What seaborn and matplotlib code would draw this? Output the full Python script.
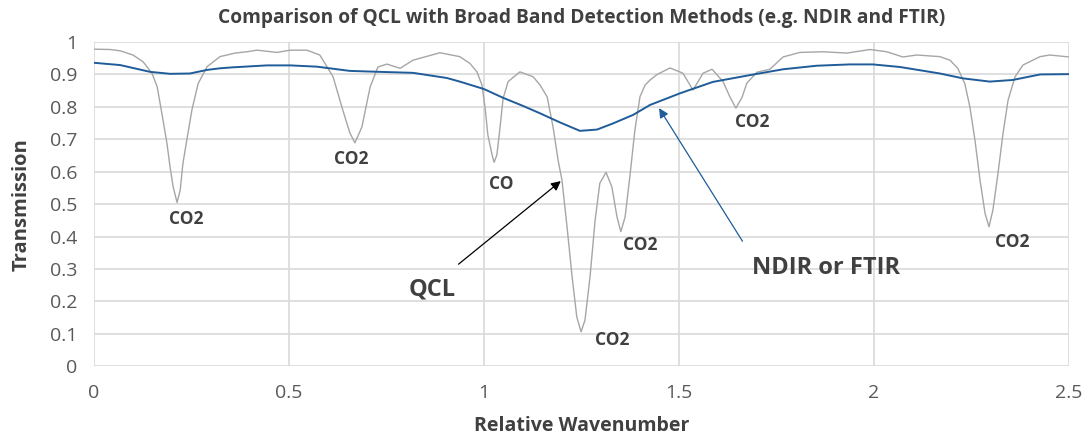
"""Recreate the QCL vs broad band detection transmission chart."""

import matplotlib

matplotlib.use("Agg")
import matplotlib.pyplot as plt
import pandas as pd
import seaborn as sns


QCL_X = [
    0.000, 0.041, 0.067, 0.100, 0.126, 0.149, 0.162, 0.174, 0.187, 0.195,
    0.203, 0.213, 0.221, 0.228, 0.238, 0.251, 0.267, 0.290, 0.323, 0.362,
    0.392, 0.418, 0.469, 0.503, 0.546, 0.579, 0.613, 0.638, 0.656, 0.669,
    0.687, 0.708, 0.728, 0.751, 0.785, 0.818, 0.887, 0.938, 0.964, 0.982,
    0.995, 1.003, 1.010, 1.021, 1.026, 1.033, 1.041, 1.049, 1.062, 1.092,
    1.126, 1.144, 1.162, 1.177, 1.190, 1.200, 1.213, 1.226, 1.238, 1.249,
    1.259, 1.272, 1.285, 1.297, 1.313, 1.328, 1.341, 1.351, 1.362, 1.374,
    1.387, 1.400, 1.413, 1.426, 1.444, 1.477, 1.510, 1.536, 1.562, 1.585,
    1.613, 1.631, 1.646, 1.662, 1.674, 1.700, 1.733, 1.767, 1.810, 1.869,
    1.931, 1.990, 2.033, 2.074, 2.110, 2.169, 2.195, 2.215, 2.233, 2.246,
    2.259, 2.272, 2.285, 2.295, 2.305, 2.318, 2.331, 2.344, 2.362, 2.382,
    2.426, 2.451, 2.500,
]
QCL_Y = [
    0.978, 0.977, 0.973, 0.960, 0.939, 0.903, 0.862, 0.780, 0.688, 0.615,
    0.553, 0.505, 0.543, 0.625, 0.698, 0.790, 0.872, 0.924, 0.955, 0.966,
    0.970, 0.975, 0.968, 0.975, 0.975, 0.960, 0.893, 0.790, 0.720, 0.689,
    0.738, 0.861, 0.923, 0.932, 0.919, 0.944, 0.967, 0.955, 0.934, 0.908,
    0.867, 0.795, 0.713, 0.651, 0.629, 0.651, 0.734, 0.826, 0.878, 0.908,
    0.893, 0.867, 0.831, 0.739, 0.636, 0.574, 0.430, 0.276, 0.152, 0.106,
    0.142, 0.276, 0.450, 0.564, 0.598, 0.553, 0.461, 0.415, 0.461, 0.584,
    0.728, 0.831, 0.867, 0.883, 0.900, 0.920, 0.904, 0.852, 0.904, 0.916,
    0.878, 0.830, 0.796, 0.830, 0.873, 0.907, 0.916, 0.954, 0.968, 0.970,
    0.966, 0.977, 0.970, 0.954, 0.960, 0.955, 0.944, 0.919, 0.872, 0.800,
    0.698, 0.574, 0.471, 0.430, 0.481, 0.594, 0.718, 0.821, 0.893, 0.929,
    0.955, 0.960, 0.954,
]

NDIR_X = [
    0.000, 0.067, 0.144, 0.195, 0.246, 0.290, 0.323, 0.356, 0.444, 0.503,
    0.572, 0.656, 0.733, 0.818, 0.905, 0.938, 1.000, 1.049, 1.100, 1.144,
    1.195, 1.246, 1.290, 1.331, 1.382, 1.426, 1.503, 1.587, 1.682, 1.767,
    1.854, 1.938, 1.997, 2.067, 2.169, 2.228, 2.297, 2.356, 2.426, 2.500,
]
NDIR_Y = [
    0.936, 0.929, 0.908, 0.902, 0.903, 0.914, 0.919, 0.922, 0.928, 0.928,
    0.924, 0.911, 0.908, 0.905, 0.889, 0.878, 0.855, 0.828, 0.803, 0.780,
    0.752, 0.726, 0.730, 0.749, 0.775, 0.806, 0.842, 0.877, 0.898, 0.916,
    0.927, 0.931, 0.931, 0.923, 0.903, 0.888, 0.878, 0.883, 0.900, 0.901,
]

# gas line labels: (text, x, y)
PEAK_LABELS = [
    ("CO2", 0.236, 0.454),
    ("CO2", 0.659, 0.639),
    ("CO", 1.044, 0.562),
    ("CO2", 1.328, 0.080),
    ("CO2", 1.400, 0.373),
    ("CO2", 1.687, 0.753),
    ("CO2", 2.354, 0.383),
]

TEXT_COLOR = "#404040"
TICK_COLOR = "#595959"
QCL_COLOR = "#a6a6a6"
NDIR_COLOR = "#1f5c99"


def main() -> None:
    sns.set_theme(style="white")
    plt.rcParams["font.family"] = ["Open Sans", "DejaVu Sans"]

    fig = plt.figure(figsize=(10.83, 4.38), dpi=100)
    ax = fig.add_axes([0.0868, 0.164, 0.9002, 0.740])

    qcl = pd.DataFrame({"x": QCL_X, "y": QCL_Y})
    ndir = pd.DataFrame({"x": NDIR_X, "y": NDIR_Y})
    sns.lineplot(data=qcl, x="x", y="y", ax=ax, color=QCL_COLOR, linewidth=1.0, sort=False)
    sns.lineplot(data=ndir, x="x", y="y", ax=ax, color=NDIR_COLOR, linewidth=1.4, sort=False)

    ax.set_xlim(0, 2.5)
    ax.set_ylim(0, 1)
    ax.set_xticks([0, 0.5, 1, 1.5, 2, 2.5])
    ax.set_xticklabels(["0", "0.5", "1", "1.5", "2", "2.5"])
    ax.set_yticks([i / 10 for i in range(11)])
    ax.set_yticklabels(["0"] + [f"0.{i}" for i in range(1, 10)] + ["1"])
    ax.tick_params(axis="both", length=0, labelsize=14, labelcolor=TICK_COLOR)
    ax.tick_params(axis="x", pad=13)
    ax.tick_params(axis="y", pad=12)
    ax.grid(True, color="#d9d9d9", linewidth=1.2)
    ax.set_axisbelow(True)
    for spine in ax.spines.values():
        spine.set_visible(False)

    ax.set_xlabel("Relative Wavenumber", fontsize=14, fontweight="bold",
                  color=TEXT_COLOR, labelpad=10)
    ax.set_ylabel("Transmission", fontsize=14.5, fontweight="bold",
                  color=TEXT_COLOR, labelpad=13)
    fig.text(0.537, 0.958,
             "Comparison of QCL with Broad Band Detection Methods (e.g. NDIR and FTIR)",
             fontsize=13.8, fontweight="bold", color=TEXT_COLOR,
             ha="center", va="center")

    for text, x, y in PEAK_LABELS:
        ax.text(x, y, text, fontsize=12.5, fontweight="bold", color=TEXT_COLOR,
                ha="center", va="center")

    ax.annotate("QCL", xy=(1.197, 0.571), xytext=(0.867, 0.235),
                fontsize=17, fontweight="bold", color=TEXT_COLOR,
                ha="center", va="center",
                arrowprops=dict(arrowstyle="-|>", color="black", lw=0.9,
                                shrinkA=12, shrinkB=0, mutation_scale=14,
                                relpos=(0.7, 1.0)))
    ax.annotate("NDIR or FTIR", xy=(1.449, 0.796), xytext=(1.877, 0.302),
                fontsize=17, fontweight="bold", color=TEXT_COLOR,
                ha="center", va="center",
                arrowprops=dict(arrowstyle="-|>", color=NDIR_COLOR, lw=0.9,
                                shrinkA=10, shrinkB=0, mutation_scale=14,
                                relpos=(0.0, 1.0)))

    fig.savefig("out.png", dpi=100)
    plt.close(fig)


if __name__ == "__main__":
    main()
